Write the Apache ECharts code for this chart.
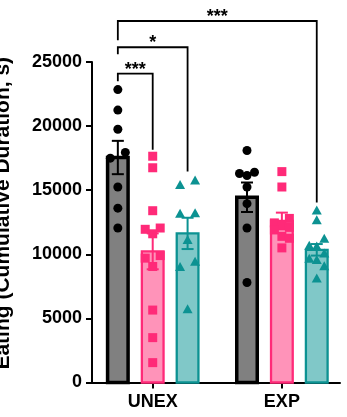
<!DOCTYPE html>
<html>
<head>
<meta charset="utf-8">
<script src="https://cdn.jsdelivr.net/npm/echarts@6/dist/echarts.min.js"></script>
<style>
  html, body { margin: 0; padding: 0; background: #fff; }
  #chart { width: 347px; height: 417px; }
</style>
</head>
<body>
<div id="chart"></div>
<script>
// ---- data -------------------------------------------------------------
const groups = ['UNEX', 'EXP'];
const yTicks = [0, 5000, 10000, 15000, 20000, 25000];

// bar means and SEM, one value per group
const meanGray = [17550, 14450];
const semGray  = [1300, 1150];
const meanPink = [10230, 12600];
const semPink  = [1400, 650];
const meanTeal = [11630, 10350];
const semTeal  = [1220, 450];

// individual animals, per group
const ptsGray = [
  [22850, 21250, 19750, 17950, 17500, 15250, 13600, 12050],
  [18100, 16400, 16300, 16150, 15250, 13950, 12050, 7800]
];
const ptsPink = [
  [17650, 16750, 13400, 12050, 11950, 11600, 9900, 9700, 9050, 5650, 3500, 1550],
  [16450, 15250, 12800, 12450, 12300, 12100, 11900, 11400, 11250, 10500]
];
const ptsTeal = [
  [15800, 15450, 13250, 13200, 11150, 9450, 9050, 5750],
  [13450, 12700, 11250, 10700, 10650, 10100, 9700, 9600, 9100, 8150]
];

// significance brackets: [group, condition] ends, bracket heights, marks
const bracketFrom = [[0, 0], [0, 0], [0, 0]];
const bracketTo   = [[0, 1], [0, 2], [1, 2]];
const bracketTop      = [24100, 26150, 28200];
const bracketLeftEnd  = [23500, 25600, 26700];
const bracketRightEnd = [18150, 16450, 14050];
const sigMarks = ['***', '*', '***'];

// ---- layout & style ---------------------------------------------------
const FONT = '"Liberation Sans", Arial, Helvetica, sans-serif';
const GRID = { left: 92, right: 7, top: 62, bottom: 34.5 };
const Y_MAX = 25000;
const X_MIN = -0.47, X_MAX = 1.45;
const SHIFT = [-0.27, 0, 0.27];          // condition position inside a group
const BAR_W = 24;                         // outer bar width, px
const CAP_W = 12;
const JIT = 7.5;                          // horizontal step between crowded points, px

const conds = [
  { mean: meanGray, sem: semGray, pts: ptsGray, fill: '#808080', stroke: '#000000', lw: 3.5,
    err: '#000000', dot: '#000000', symbol: 'circle', size: 9 },
  { mean: meanPink, sem: semPink, pts: ptsPink, fill: '#ff93b9', stroke: '#ff2a78', lw: 2.3,
    err: '#ff2a78', dot: '#ff2a78', symbol: 'rect', size: 9 },
  { mean: meanTeal, sem: semTeal, pts: ptsTeal, fill: '#80c8c8', stroke: '#0c9292', lw: 2.3,
    err: '#0c9292', dot: '#0c9292', symbol: 'triangle', size: [10, 9] }
];

const el = document.getElementById('chart');
const plotH = el.clientHeight - GRID.top - GRID.bottom;
const pxPerVal = plotH / Y_MAX;

// spread points that would overlap: runs of close values get +, -, 0 offsets
function swarm(values) {
  const out = new Array(values.length).fill(0);
  let start = 0;
  for (let i = 1; i <= values.length; i++) {
    const broken = i === values.length ||
      Math.abs(values[i - 1] - values[i]) * pxPerVal >= 9;
    if (broken) {
      const n = i - start;
      if (n > 1) {
        const pattern = [JIT, -JIT, 0];
        for (let k = 0; k < n; k++) out[start + k] = pattern[k % 3];
      }
      start = i;
    }
  }
  return out;
}

const series = [];

// bars with error bars
conds.forEach((c, ci) => {
  series.push({
    type: 'custom',
    z: 2,
    data: groups.map((g, gi) => [gi, c.mean[gi], c.sem[gi]]),
    encode: { x: 0, y: 1 },
    renderItem: (params, api) => {
      const x = api.value(0) + SHIFT[ci];
      const m = api.value(1), s = api.value(2);
      const base = api.coord([x, 0]);
      const top = api.coord([x, m]);
      const hi = api.coord([x, m + s]);
      const lo = api.coord([x, m - s]);
      const w = BAR_W - c.lw;
      const cx = top[0];
      return {
        type: 'group',
        children: [
          {
            type: 'rect',
            shape: { x: cx - w / 2, y: top[1], width: w, height: base[1] - top[1] },
            style: { fill: c.fill, stroke: c.stroke, lineWidth: c.lw }
          },
          {
            type: 'polyline',
            shape: { points: [[cx, hi[1]], [cx, lo[1]]] },
            style: { stroke: c.err, lineWidth: 2, fill: null }
          },
          {
            type: 'line',
            shape: { x1: cx - CAP_W / 2, y1: hi[1], x2: cx + CAP_W / 2, y2: hi[1] },
            style: { stroke: c.err, lineWidth: 2 }
          },
          {
            type: 'line',
            shape: { x1: cx - CAP_W / 2, y1: lo[1], x2: cx + CAP_W / 2, y2: lo[1] },
            style: { stroke: c.err, lineWidth: 2 }
          }
        ]
      };
    }
  });
});

// individual points
conds.forEach((c, ci) => {
  const data = [];
  c.pts.forEach((vals, gi) => {
    const offs = swarm(vals);
    vals.forEach((v, k) => {
      data.push({ value: [gi + SHIFT[ci], v], symbolOffset: [offs[k], 0] });
    });
  });
  series.push({
    type: 'scatter',
    z: 3,
    symbol: c.symbol,
    symbolSize: c.size,
    itemStyle: { color: c.dot, opacity: 1 },
    data: data
  });
});

// significance brackets
series.push({
  type: 'custom',
  z: 4,
  clip: false,
  data: sigMarks.map((mk, i) => [
    bracketFrom[i][0] + SHIFT[bracketFrom[i][1]],
    bracketTo[i][0] + SHIFT[bracketTo[i][1]],
    bracketTop[i], bracketLeftEnd[i], bracketRightEnd[i], i
  ]),
  renderItem: (params, api) => {
    const x1 = api.value(0), x2 = api.value(1);
    const topY = api.value(2);
    const a = api.coord([x1, api.value(3)]);
    const b = api.coord([x1, topY]);
    const c2 = api.coord([x2, topY]);
    const d = api.coord([x2, api.value(4)]);
    const mk = sigMarks[api.value(5)];
    return {
      type: 'group',
      children: [
        {
          type: 'polyline',
          shape: { points: [a, b, c2, d] },
          style: { stroke: '#000', lineWidth: 1.8, fill: null }
        },
        {
          type: 'text',
          style: {
            text: mk, x: (b[0] + c2[0]) / 2, y: b[1] - 4,
            align: 'center', verticalAlign: 'middle',
            fill: '#000', font: 'bold 18px ' + FONT
          }
        }
      ]
    };
  }
});

const chart = echarts.init(el, null, { renderer: 'canvas' });
chart.setOption({
  animation: false,
  backgroundColor: '#fff',
  grid: Object.assign({ containLabel: false, outerBoundsMode: 'none' }, GRID),
  xAxis: {
    type: 'value',
    min: X_MIN,
    max: X_MAX,
    splitLine: { show: false },
    axisLine: { show: true, onZero: false, lineStyle: { color: '#000', width: 2 } },
    axisTick: { show: true, customValues: [0, 1], length: 6, lineStyle: { color: '#000', width: 2 } },
    axisLabel: {
      customValues: [0, 1],
      formatter: v => groups[Math.round(v)],
      margin: 11,
      color: '#000', fontSize: 18, fontWeight: 'bold', fontFamily: FONT
    }
  },
  yAxis: {
    type: 'value',
    min: yTicks[0],
    max: yTicks[yTicks.length - 1],
    interval: yTicks[1] - yTicks[0],
    splitLine: { show: false },
    axisLine: { show: true, onZero: false, lineStyle: { color: '#000', width: 2 } },
    axisTick: { show: true, length: 6, lineStyle: { color: '#000', width: 2 } },
    axisLabel: {
      formatter: v => String(v),
      margin: 10, color: '#000', fontSize: 18, fontWeight: 'bold', fontFamily: FONT
    },
    name: 'Eating (Cumulative Duration, s)',
    nameLocation: 'middle',
    nameRotate: 90,
    nameGap: 78,
    nameTextStyle: {
      color: '#000', fontSize: 21, fontWeight: 'bold', fontFamily: FONT,
      padding: [0, 0, 0, 18]
    }
  },
  series: series
});
</script>
</body>
</html>
